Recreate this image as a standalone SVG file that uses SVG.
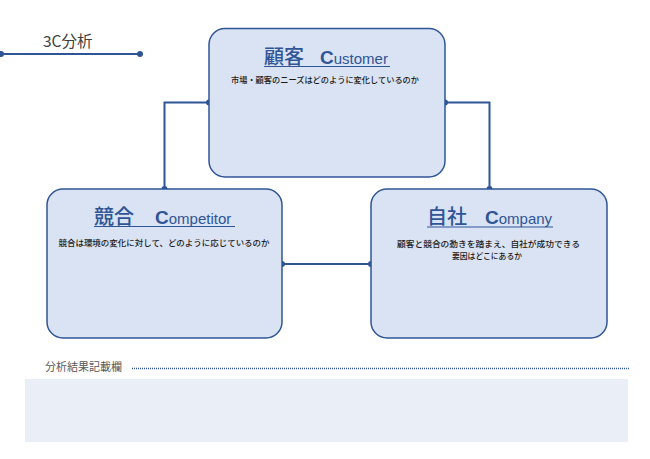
<svg xmlns="http://www.w3.org/2000/svg" width="650" height="459" viewBox="0 0 650 459">
<defs>
<style>
.box{fill:#dae3f3;stroke:#2f5597;stroke-width:1.5}
.con{fill:none;stroke:#2f5597;stroke-width:2}
.dot{fill:#2f5597}
.ttl{font-family:"Liberation Sans","Noto Sans CJK JP",sans-serif;fill:#2f5597}
.jp{font-family:"Noto Sans CJK JP",sans-serif;font-size:20px;font-weight:500}
.cap{font-weight:bold;font-size:19px}
.rest{font-size:15px}
.sub{font-family:"Noto Sans CJK JP",sans-serif;font-size:8.5px;fill:#1a1a1a;font-weight:500}
.ul{stroke:#2f5597;stroke-width:1}
</style>
</defs>
<rect width="650" height="459" fill="#ffffff"/>
<g id="header">
<text x="43" y="47" font-family="'Noto Sans CJK JP',sans-serif" font-size="15.5" fill="#404040">3C分析</text>
<line x1="0" y1="54" x2="140" y2="54" stroke="#2f5597" stroke-width="2"/>
<circle cx="1" cy="54" r="3" class="dot"/>
<circle cx="140" cy="54" r="3" class="dot"/>
</g>
<g id="connectors">
<polyline class="con" points="209,102.5 164.5,102.5 164.5,189"/>
<polyline class="con" points="445,102.5 489.5,102.5 489.5,189"/>
<line class="con" x1="282" y1="264" x2="371" y2="264"/>
<circle cx="209" cy="102.5" r="3" class="dot"/>
<circle cx="164.5" cy="189" r="3" class="dot"/>
<circle cx="445" cy="102.5" r="3" class="dot"/>
<circle cx="489.5" cy="189" r="3" class="dot"/>
<circle cx="282" cy="264" r="3" class="dot"/>
<circle cx="371" cy="264" r="3" class="dot"/>
</g>
<g id="customer">
<rect class="box" x="209" y="28.5" width="236" height="148.5" rx="16"/>
<text class="ttl" y="63.5"><tspan class="jp" x="264">顧客</tspan><tspan class="cap" x="320">C</tspan><tspan class="rest">ustomer</tspan></text>
<line class="ul" x1="264" y1="66.5" x2="390" y2="66.5"/>
<text class="sub" x="325" y="83" text-anchor="middle" textLength="188" lengthAdjust="spacingAndGlyphs">市場・顧客のニーズはどのように変化しているのか</text>
</g>
<g id="competitor">
<rect class="box" x="47" y="189" width="235" height="149" rx="16"/>
<text class="ttl" y="223.5"><tspan class="jp" x="94">競合</tspan><tspan class="cap" x="155">C</tspan><tspan class="rest">ompetitor</tspan></text>
<line class="ul" x1="94" y1="226.5" x2="235" y2="226.5"/>
<text class="sub" x="164" y="246" text-anchor="middle" textLength="211" lengthAdjust="spacingAndGlyphs">競合は環境の変化に対して、どのように応じているのか</text>
</g>
<g id="company">
<rect class="box" x="371" y="189" width="236" height="149" rx="16"/>
<text class="ttl" y="224"><tspan class="jp" x="427">自社</tspan><tspan class="cap" x="485">C</tspan><tspan class="rest">ompany</tspan></text>
<line class="ul" x1="427" y1="227" x2="553" y2="227"/>
<text class="sub" x="488.5" y="247" text-anchor="middle" textLength="183" lengthAdjust="spacingAndGlyphs">顧客と競合の動きを踏まえ、自社が成功できる</text>
<text class="sub" x="487" y="259" text-anchor="middle" textLength="70" lengthAdjust="spacingAndGlyphs">要因はどこにあるか</text>
</g>
<g id="result">
<text x="45" y="371" font-family="'Noto Sans CJK JP',sans-serif" font-size="11" fill="#595959">分析結果記載欄</text>
<line x1="132" y1="368.5" x2="630" y2="368.5" stroke="#2f5597" stroke-width="1.5" stroke-dasharray="1 1"/>
<rect x="25" y="379" width="603" height="63" fill="#e9eef7"/>
</g>
</svg>
